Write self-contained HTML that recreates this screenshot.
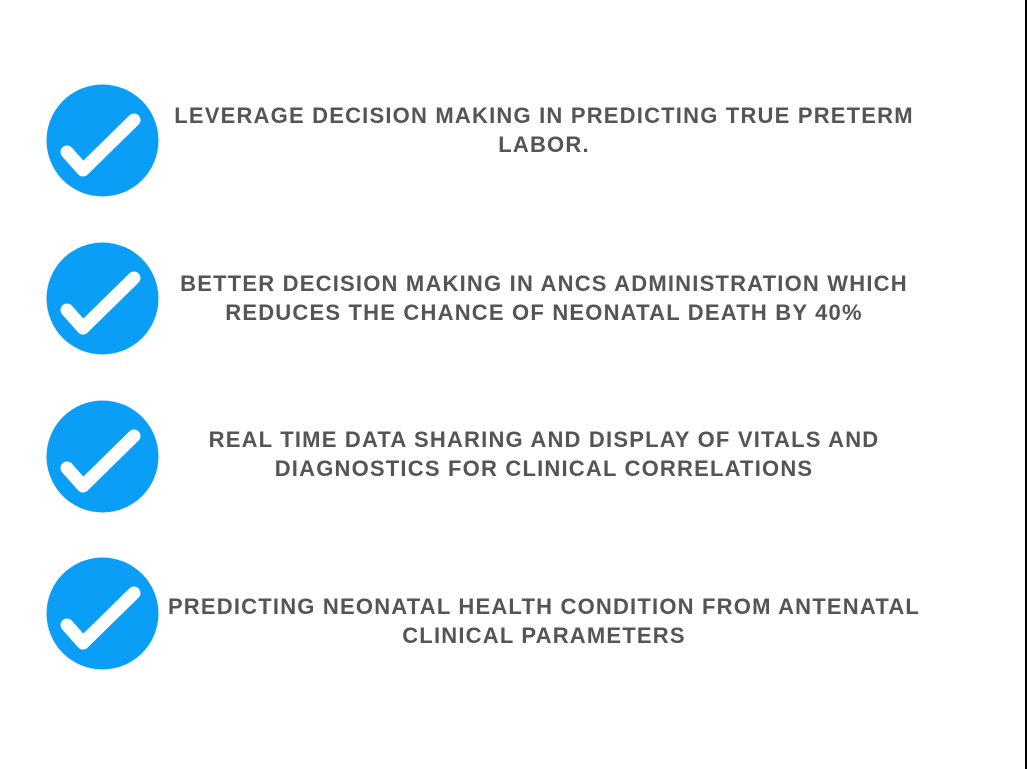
<!DOCTYPE html>
<html><head><meta charset="utf-8"><style>
html,body{margin:0;padding:0;background:#fff;}
body{width:1027px;height:769px;position:relative;overflow:hidden;font-family:"Liberation Sans",sans-serif;}
.edge{position:absolute;left:1025px;top:0;width:2px;height:769px;background:#000;}
.chk{position:absolute;left:46px;width:113px;height:113px;}
.txt{position:absolute;left:94px;width:900px;text-align:center;font-weight:bold;font-size:22px;letter-spacing:1.2px;line-height:29px;color:#555;}
</style></head><body>
<div class="edge"></div>

<svg class="chk" style="top:84px" viewBox="0 0 113 113"><circle cx="56.5" cy="56.5" r="56" fill="#0a9ef6"/><polyline points="21,68 37,86 88,36" fill="none" stroke="#fff" stroke-width="13" stroke-linecap="round" stroke-linejoin="round"/></svg>
<div class="txt" style="top:101px">LEVERAGE DECISION MAKING IN PREDICTING TRUE PRETERM<br>LABOR.</div>

<svg class="chk" style="top:242px" viewBox="0 0 113 113"><circle cx="56.5" cy="56.5" r="56" fill="#0a9ef6"/><polyline points="21,68 37,86 88,36" fill="none" stroke="#fff" stroke-width="13" stroke-linecap="round" stroke-linejoin="round"/></svg>
<div class="txt" style="top:269px">BETTER DECISION MAKING IN ANCS ADMINISTRATION WHICH<br>REDUCES THE CHANCE OF NEONATAL DEATH BY 40%</div>

<svg class="chk" style="top:400px" viewBox="0 0 113 113"><circle cx="56.5" cy="56.5" r="56" fill="#0a9ef6"/><polyline points="21,68 37,86 88,36" fill="none" stroke="#fff" stroke-width="13" stroke-linecap="round" stroke-linejoin="round"/></svg>
<div class="txt" style="top:425px">REAL TIME DATA SHARING AND DISPLAY OF VITALS AND<br>DIAGNOSTICS FOR CLINICAL CORRELATIONS</div>

<svg class="chk" style="top:557px" viewBox="0 0 113 113"><circle cx="56.5" cy="56.5" r="56" fill="#0a9ef6"/><polyline points="21,68 37,86 88,36" fill="none" stroke="#fff" stroke-width="13" stroke-linecap="round" stroke-linejoin="round"/></svg>
<div class="txt" style="top:592px">PREDICTING NEONATAL HEALTH CONDITION FROM ANTENATAL<br>CLINICAL PARAMETERS</div>
</body></html>
